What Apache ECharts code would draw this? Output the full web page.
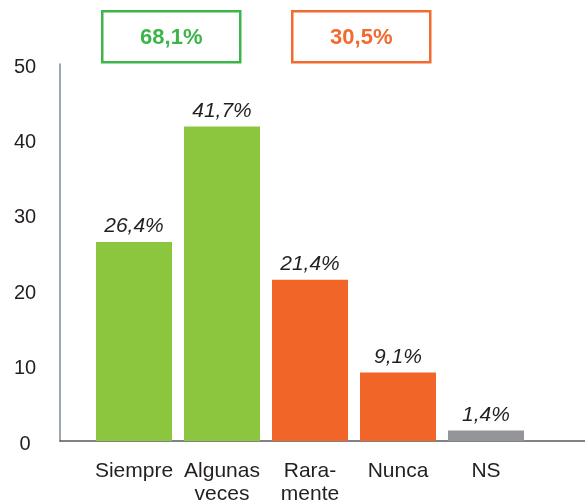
<!DOCTYPE html>
<html>
<head>
    <meta charset="UTF-8">
    <script src="https://cdn.jsdelivr.net/npm/echarts@6/dist/echarts.min.js"></script>
    <style>
        html, body { margin: 0; padding: 0; background: #fff; }
        #chart { width: 585px; height: 500px; }
    </style>
    <title>Frecuencia</title>
</head>
<body>
    <div id="chart"></div>
    <script>
        // data
        var categories = ['Siempre', 'Algunas\nveces', 'Rara-\nmente', 'Nunca', 'NS'];
        var values = [26.4, 41.7, 21.4, 9.1, 1.4];
        var barColors = ['#8cc63f', '#8cc63f', '#f26529', '#f26529', '#939598'];
        var yTicks = [0, 10, 20, 30, 40, 50];

        var fontFam = '"Liberation Sans", Arial, sans-serif';

        function pct(v) {
            return v.toFixed(1).replace('.', ',') + '%';
        }
        // totals shown in the boxes on top
        var totalYes = values[0] + values[1];
        var totalNo = values[2] + values[3];

        var myChart = echarts.init(document.getElementById('chart'), null, { renderer: 'canvas' });

        var option = {
            backgroundColor: '#fff',
            animation: false,
            grid: [
                // frame: axis lines + y labels
                { left: 60, right: 0, top: 64, bottom: 59, outerBoundsMode: 'none' },
                // bars
                { left: 90, width: 440, top: 64, bottom: 59, outerBoundsMode: 'none' }
            ],
            xAxis: [{
                gridIndex: 0,
                type: 'value',
                min: 0,
                max: 1,
                axisLine: { show: true, lineStyle: { color: '#58595b', width: 1.5 } },
                axisTick: { show: false },
                axisLabel: { show: false },
                splitLine: { show: false }
            }, {
                gridIndex: 1,
                type: 'category',
                data: categories,
                axisLine: { show: false },
                axisTick: { show: false },
                axisLabel: {
                    interval: 0,
                    margin: 19,
                    fontSize: 21,
                    lineHeight: 23,
                    color: '#231f20',
                    fontFamily: fontFam
                }
            }],
            yAxis: [{
                gridIndex: 0,
                type: 'value',
                min: yTicks[0],
                max: yTicks[yTicks.length - 1],
                interval: 10,
                axisLine: { show: true, lineStyle: { color: '#7d8b98', width: 1.5 } },
                axisTick: { show: false },
                splitLine: { show: false },
                axisLabel: {
                    align: 'center',
                    verticalAlign: 'top',
                    margin: 35,
                    fontSize: 20,
                    lineHeight: 20,
                    padding: [-7, 0, 0, 0],
                    color: '#231f20',
                    fontFamily: fontFam
                }
            }, {
                gridIndex: 1,
                type: 'value',
                min: 0,
                max: 50,
                show: false
            }],
            series: [{
                type: 'bar',
                xAxisIndex: 1,
                yAxisIndex: 1,
                barWidth: 76,
                data: values.map(function (v, i) {
                    return { value: v, itemStyle: { color: barColors[i] } };
                }),
                label: {
                    show: true,
                    position: 'top',
                    distance: 5,
                    fontSize: 21,
                    fontStyle: 'italic',
                    color: '#231f20',
                    fontFamily: fontFam,
                    formatter: function (p) { return pct(p.value); }
                }
            }],
            graphic: [{
                type: 'group',
                left: 101,
                top: 10,
                children: [{
                    type: 'rect',
                    shape: { x: 0, y: 0, width: 138, height: 51 },
                    style: { fill: '#fff', stroke: '#3db54a', lineWidth: 2.5 }
                }, {
                    type: 'text',
                    x: 69,
                    y: 27,
                    style: {
                        text: pct(totalYes),
                        fill: '#3db54a',
                        font: 'bold 22px ' + fontFam,
                        align: 'center',
                        verticalAlign: 'middle'
                    }
                }]
            }, {
                type: 'group',
                left: 291,
                top: 10,
                children: [{
                    type: 'rect',
                    shape: { x: 0, y: 0, width: 138, height: 51 },
                    style: { fill: '#fff', stroke: '#f26a2e', lineWidth: 2.5 }
                }, {
                    type: 'text',
                    x: 69,
                    y: 27,
                    style: {
                        text: pct(totalNo),
                        fill: '#f26a2e',
                        font: 'bold 22px ' + fontFam,
                        align: 'center',
                        verticalAlign: 'middle'
                    }
                }]
            }]
        };

        myChart.setOption(option);
        window.addEventListener('resize', myChart.resize);
    </script>
</body>
</html>
